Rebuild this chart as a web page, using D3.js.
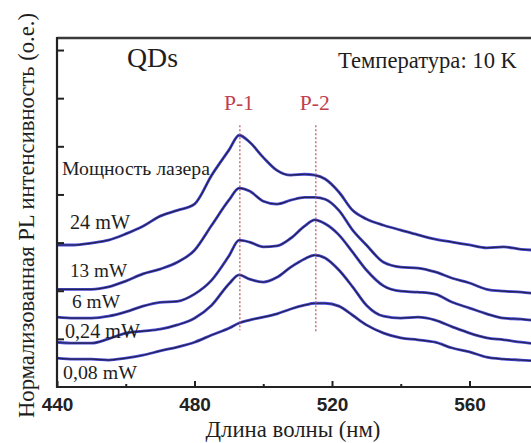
<!DOCTYPE html>
<html><head><meta charset="utf-8">
<script src="https://cdn.jsdelivr.net/npm/d3@7"></script>
<style>body{margin:0;background:#fff}svg{display:block}</style>
</head><body><svg id="c" width="531" height="443"></svg>
<script>
// ---------- data ----------
const wavelengths = [440,445,450,455,460,465,470,475,480,485,490,493,496,500,504,508,512,515,518,522,526,530,535,540,545,550,555,560,565,570,575,580];
const seriesNames = ["24 mW","13 mW","6 mW","0,24 mW","0,08 mW"];
const pl24  = [2.95,2.95,2.99,3.05,3.18,3.34,3.55,3.67,3.80,4.40,4.92,5.23,5.09,4.77,4.50,4.40,4.42,4.40,4.32,4.05,3.67,3.49,3.36,3.26,3.16,3.07,3.01,2.95,2.89,2.91,2.86,2.84];
const pl13  = [2.03,2.03,2.03,2.08,2.20,2.35,2.45,2.59,2.84,3.36,3.88,4.13,4.07,3.86,3.80,3.88,3.94,3.94,3.90,3.67,3.26,2.95,2.59,2.49,2.47,2.39,2.26,2.16,2.03,1.99,1.97,1.93];
const pl6   = [1.45,1.43,1.43,1.47,1.56,1.68,1.76,1.78,1.93,2.22,2.72,3.05,3.01,2.91,2.93,3.09,3.34,3.47,3.39,3.16,2.80,2.43,2.10,1.99,1.97,1.93,1.76,1.64,1.52,1.43,1.41,1.37];
const pl024 = [0.93,0.91,0.91,1.00,1.12,1.16,1.20,1.29,1.43,1.70,2.14,2.33,2.24,2.18,2.28,2.49,2.66,2.74,2.68,2.43,2.08,1.70,1.47,1.43,1.45,1.39,1.25,1.12,1.02,0.98,0.93,0.89];
const pl008 = [0.60,0.58,0.58,0.56,0.60,0.66,0.75,0.83,0.93,1.08,1.22,1.33,1.39,1.45,1.52,1.62,1.70,1.74,1.74,1.68,1.49,1.29,1.12,1.02,0.98,0.93,0.81,0.73,0.62,0.58,0.56,0.54];
const seriesValues = [pl24, pl13, pl6, pl024, pl008];
const xTickLabels = [440,480,520,560];
const xMinorTicks = [460,500,540];
const yTicks = [1,2,3,4,5,6,7];
const peakLabels = ["P-1","P-2"];
const peakWavelengths = [493.2, 515.3];

// ---------- layout ----------
const svg = d3.select("#c");
const L = 57, T = 38, B = 387;
const x = d3.scaleLinear().domain([440,580]).range([L, L + 140*3.4375]);
const y = d3.scaleLinear().domain([0,7.25]).range([B, T]);

function fit(sel, w){
  const l = sel.node().getComputedTextLength();
  const fs = parseFloat(sel.attr("font-size"));
  sel.attr("font-size", (fs*w/l).toFixed(2));
  return sel;
}

svg.append("defs").append("clipPath").attr("id","clip")
  .append("rect").attr("x",L).attr("y",T).attr("width",531-L).attr("height",B-T);

// curves
const line = d3.line().x((d,i)=>x(wavelengths[i])).y(d=>y(d)).curve(d3.curveMonotoneX);
const g = svg.append("g").attr("clip-path","url(#clip)");
seriesValues.forEach(vals=>{
  g.append("path").attr("d", line(vals)).attr("fill","none").attr("stroke","#4848d8").attr("stroke-width",2.8).attr("stroke-linejoin","round");
  g.append("path").attr("d", line(vals)).attr("fill","none").attr("stroke","#23234a").attr("stroke-width",1.2).attr("stroke-linejoin","round");
});

// peak lines
peakWavelengths.forEach((wl,i)=>{
  svg.append("line").attr("x1",x(wl)).attr("x2",x(wl))
    .attr("y1",y(5.44)).attr("y2",y(i===0?1.18:1.14))
    .attr("stroke","#c0505a").attr("stroke-width",1.2).attr("stroke-dasharray","2,2");
  svg.append("text").attr("x",x(wl)-1).attr("y",110).attr("text-anchor","middle")
    .attr("font-family","Liberation Serif").attr("font-size",16).attr("fill","#c0404e")
    .text(peakLabels[i]).call(s=>fit(s,30));
});

// axes
const xAxis = d3.axisBottom(x).tickValues(xTickLabels).tickSize(-6).tickPadding(12).tickFormat(d3.format("d"));
const gx = svg.append("g").attr("transform",`translate(0,${B})`).call(xAxis);
gx.select(".domain").remove();
gx.selectAll(".tick line").attr("stroke","#222").attr("stroke-width",2);
gx.selectAll(".tick text").attr("font-family","Liberation Sans").attr("font-weight","bold")
  .attr("font-size",19).attr("fill","#222").attr("dy",0).attr("y",24);
const gxm = svg.append("g").attr("transform",`translate(0,${B})`)
  .call(d3.axisBottom(x).tickValues(xMinorTicks).tickSize(-3).tickFormat(""));
gxm.select(".domain").remove();
gxm.selectAll(".tick line").attr("stroke","#222").attr("stroke-width",2);

const gy = svg.append("g").attr("transform",`translate(${L},0)`)
  .call(d3.axisLeft(y).tickValues(yTicks).tickSize(-7).tickFormat(""));
gy.select(".domain").remove();
gy.selectAll(".tick line").attr("stroke","#222").attr("stroke-width",2);

// frame
svg.append("line").attr("x1",L).attr("x2",531).attr("y1",T).attr("y2",T).attr("stroke","#3a3a3a").attr("stroke-width",2.6);
svg.append("line").attr("x1",L).attr("x2",L).attr("y1",T-1).attr("y2",B+1).attr("stroke","#222").attr("stroke-width",2.2);
svg.append("line").attr("x1",L).attr("x2",531).attr("y1",B).attr("y2",B).attr("stroke","#222").attr("stroke-width",2.2);

// texts
const serif = "Liberation Serif";
function txt(s, xx, yy, w, fs, anchor){
  const t = svg.append("text").attr("x",xx).attr("y",yy).attr("font-family",serif)
    .attr("font-size",fs).attr("fill","#1e1e1e").attr("text-anchor",anchor||"start").text(s);
  return fit(t,w);
}
txt("QDs",127,67,51,26);
txt("Температура: 10 K",338,68,179,17);
txt("Мощность лазера",62,175,148,16);
const labelPos = [[70,229,60],[70,277,57],[72,308,48],[65,338,75],[63,379,74]];
seriesNames.forEach((n,i)=>txt(n,labelPos[i][0],labelPos[i][1],labelPos[i][2],17));
txt("Длина волны (нм)",293,437,175,17,"middle");
const yt = svg.append("text").attr("transform","translate(34,215.5) rotate(-90)")
  .attr("text-anchor","middle").attr("font-family",serif).attr("font-size",17).attr("fill","#1e1e1e")
  .text("Нормализованная PL интенсивность (о.е.)");
fit(yt,405);
</script></body></html>
